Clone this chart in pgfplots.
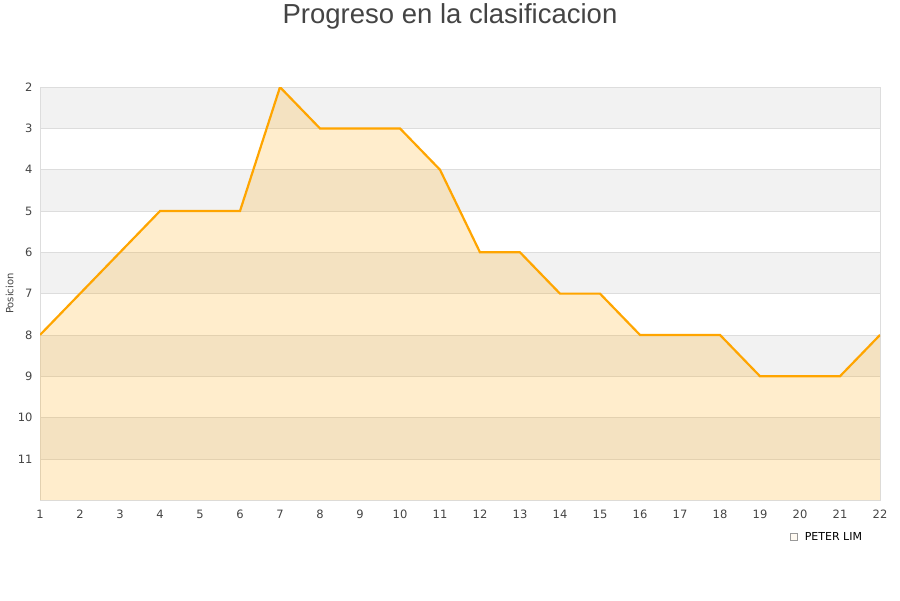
\documentclass[border=0pt]{standalone}
\usepackage{pgfplots}
\pgfplotsset{compat=1.18}
\usepgfplotslibrary{fillbetween}
\usepackage{fontspec}
\setmainfont{DejaVu Sans}
\newfontfamily\titlefont{Liberation Sans}
\definecolor{lineorange}{HTML}{FFA500}
\definecolor{bandgray}{HTML}{F2F2F2}
\definecolor{gridgray}{HTML}{DDDDDD}
\definecolor{txt}{HTML}{444444}
\begin{document}
\begin{tikzpicture}
\begin{axis}[
    set layers,
    at={(40pt,100pt)}, anchor=south west,
    width=840pt, height=413pt, scale only axis,
    xmin=1, xmax=22, ymin=2, ymax=12,
    y dir=reverse,
    xtick={1,...,22}, ytick={2,...,11},
    ymajorgrids, grid style={gridgray, line width=0.6pt},
    axis line style={draw=gridgray, line width=0.8pt},
    tick style={draw=none},
    ticklabel style={font=\fontsize{11.5}{13}\selectfont, text=txt},
    /pgf/number format/assume math mode=true,
    xticklabel style={yshift=-6pt},
    yticklabel style={xshift=-4pt},
    ylabel={Posicion},
    ylabel style={at={(axis description cs:-0.036,0.5)}, anchor=center, font=\fontsize{10}{11}\selectfont, text=txt},
    legend style={at={(0.893,-0.089)}, anchor=west, draw=none, fill=none,
        font=\fontsize{11}{13}\selectfont, inner sep=0pt},
    legend cell align=left,
]
\begin{pgfonlayer}{axis background}
  \fill[bandgray] (axis cs:1,2) rectangle (axis cs:22,3);
  \fill[bandgray] (axis cs:1,4) rectangle (axis cs:22,5);
  \fill[bandgray] (axis cs:1,6) rectangle (axis cs:22,7);
  \fill[bandgray] (axis cs:1,8) rectangle (axis cs:22,9);
  \fill[bandgray] (axis cs:1,10) rectangle (axis cs:22,11);
\end{pgfonlayer}
\addplot[name path=A, draw=lineorange, line width=2.2pt, mark=none, forget plot] coordinates {
  (1,8) (2,7) (3,6) (4,5) (5,5) (6,5) (7,2) (8,3) (9,3) (10,3) (11,4)
  (12,6) (13,6) (14,7) (15,7) (16,8) (17,8) (18,8) (19,9) (20,9) (21,9) (22,8)
};
\path[name path=B] (axis cs:1,12) -- (axis cs:22,12);
\addplot[fill=lineorange, fill opacity=0.2, draw=none,
  legend image code/.code={\draw[fill=lineorange!25, draw=gray!80, line width=0.5pt] (0pt,-3.5pt) rectangle (7pt,3.5pt);}]
  fill between[of=A and B];
\addlegendentry{\hspace{5pt}PETER LIM}
\end{axis}
\node[font=\titlefont\fontsize{27.5}{31}\selectfont, text=txt] at (450pt,584pt) {Progreso en la clasificacion};
\path (0pt,0pt) rectangle (900pt,600pt);
\end{tikzpicture}
\end{document}
